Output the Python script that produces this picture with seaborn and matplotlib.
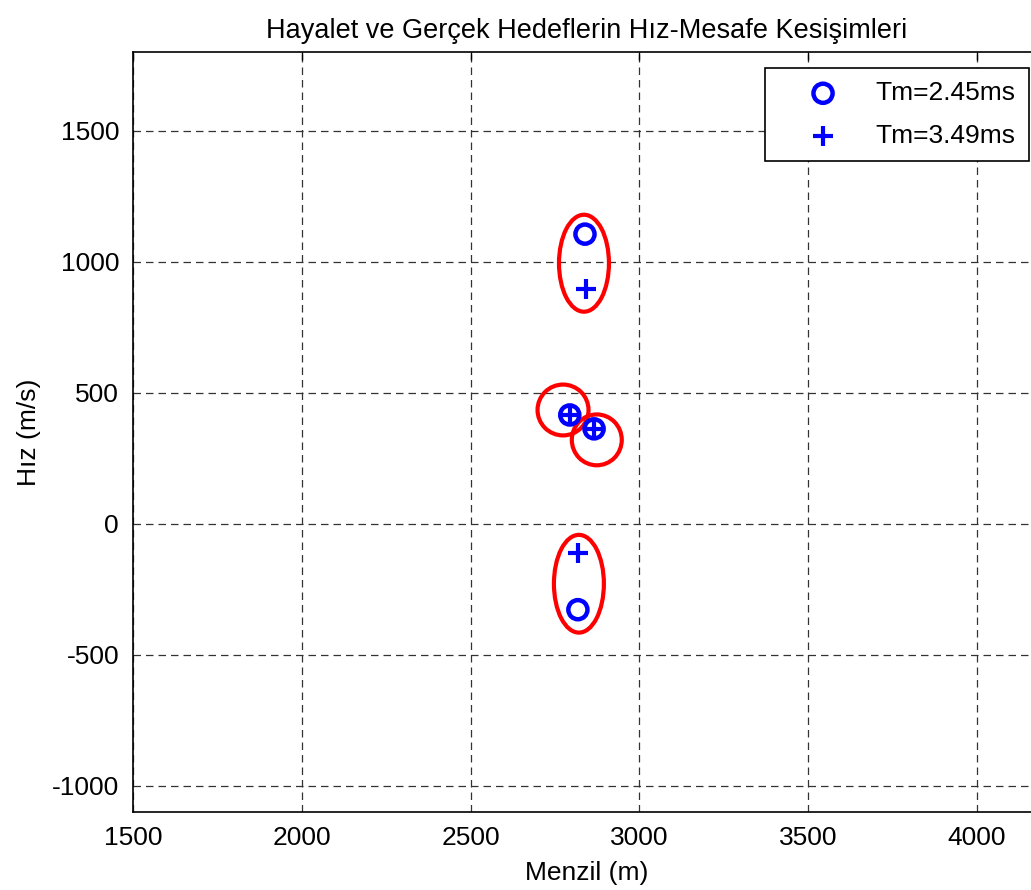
import matplotlib
matplotlib.use("Agg")
import matplotlib.pyplot as plt
from matplotlib.patches import Ellipse
import seaborn as sns
import pandas as pd

# Data
range_245 = [2839, 2794, 2866, 2818]
speed_245 = [1105, 415, 362, -328]
range_349 = [2842, 2794, 2866, 2818]
speed_349 = [895, 415, 362, -110]
labels = ["Tm=2.45ms", "Tm=3.49ms"]

# highlighted intersection regions (center x, center y, width, height)
ell_x = [2836, 2774, 2874, 2821]
ell_y = [994, 434, 320, -229]
ell_w = [148, 151, 148, 148]
ell_h = [370, 194, 194, 373]

xticks = [1500, 2000, 2500, 3000, 3500, 4000]
yticks = [-1000, -500, 0, 500, 1000, 1500]

sns.set_style("white")
plt.rcParams['font.family'] = ['Liberation Sans', 'DejaVu Sans']
plt.rcParams['axes.unicode_minus'] = False
plt.rcParams['text.color'] = 'black'
plt.rcParams['axes.labelcolor'] = 'black'
plt.rcParams['xtick.color'] = 'black'
plt.rcParams['ytick.color'] = 'black'

fig = plt.figure(figsize=(10.31, 8.90), dpi=100)
ax = fig.add_axes([133/1031, (890-812)/890, (1041-133)/1031, (812-52)/890])

df1 = pd.DataFrame({"x": range_245, "y": speed_245})
df2 = pd.DataFrame({"x": range_349, "y": speed_349})

sns.scatterplot(data=df1, x="x", y="y", ax=ax, marker="o", s=190,
                color="blue", facecolor="none", edgecolor="blue",
                linewidth=3.2, label=labels[0], zorder=4)
sns.scatterplot(data=df2, x="x", y="y", ax=ax, marker="+", s=200,
                color="blue", linewidth=3.0, label=labels[1], zorder=4)

for cx, cy, w, h in zip(ell_x, ell_y, ell_w, ell_h):
    ax.add_patch(Ellipse((cx, cy), w, h, fill=False, edgecolor="red",
                         linewidth=3.0, zorder=3))

ax.set_xlim(1500, 4190)
ax.set_ylim(-1100, 1800)
ax.set_xticks(xticks)
ax.set_yticks(yticks)
ax.tick_params(axis="both", direction="in", length=6, width=1, labelsize=19,
               top=True, right=True, pad=10, color="black", labelcolor="black")
ax.grid(True, linestyle=(0, (6, 4)), color="#333333", linewidth=0.9)
for s in ax.spines.values():
    s.set_color("black")
    s.set_linewidth(1.2)

ax.set_xlabel("Menzil (m)", fontsize=19, labelpad=8, color="black")
ax.set_ylabel("Hız (m/s)", fontsize=19, labelpad=8, color="black")
ax.set_title("Hayalet ve Gerçek Hedeflerin Hız-Mesafe Kesişimleri", fontsize=19.5,
             pad=10, color="black")

leg = ax.legend(loc="upper right", bbox_to_anchor=(1029/1031, (890-68)/890),
                bbox_transform=fig.transFigure, fontsize=19, frameon=True,
                fancybox=False, framealpha=1, edgecolor="black",
                borderpad=0.5, handletextpad=0.3, labelspacing=0.72,
                handlelength=3.4, borderaxespad=0)
leg.get_frame().set_linewidth(1.2)
for t in leg.get_texts():
    t.set_color("black")

fig.savefig("out.png", dpi=100)
